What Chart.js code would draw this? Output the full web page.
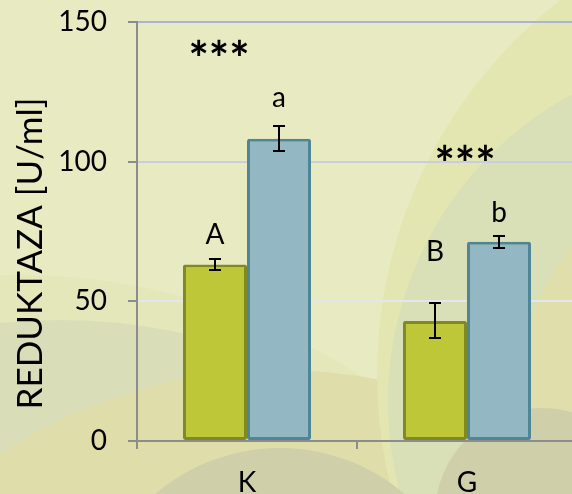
<!DOCTYPE html>
<html>
<head>
<meta charset="utf-8">
<script src="https://cdn.jsdelivr.net/npm/chart.js@4.4.1/dist/chart.umd.min.js"></script>
<style>
  html, body { margin: 0; padding: 0; overflow: hidden; background: #e8ebc0; }
  #wrap { width: 580px; height: 494px; }
</style>
</head>
<body>
<div id="wrap"><canvas id="chart" width="580" height="494"></canvas></div>
<script>
var CATEGORIES = ['K', 'G'];
var SERIES_1 = [63.2, 43.0];
var SERIES_1_ERR = [1.9, 6.3];
var SERIES_2 = [108.2, 71.3];
var SERIES_2_ERR = [4.4, 2.1];
var LETTERS_1 = ['A', 'B'];
var LETTERS_2 = ['a', 'b'];
var STARS = ['***', '***'];
var Y_TITLE = 'REDUKTAZA [U/ml]';

// where the annotations sit, in axis units
var LETTER_Y_1 = [70.5, 64.4];   // text baseline
var LETTER_Y_2 = [119.6, 78.4];
var STARS_Y = [140.7, 103.2];    // middle of the asterisks
var STARS_DX = [-28, -2];

var GRID_COLORS = {150: '#a9b3d6', 100: '#c9cde0', 50: '#e4e6ee'};

// decorative swirl behind the chart
var bgPlugin = {
    id: 'bg',
    beforeDraw: function(chart) {
        var c = chart.ctx;
        c.save();
        c.fillStyle = '#e8ebc1';
        c.fillRect(0, 0, chart.width, chart.height);
        function disc(x, y, r, col) {
            c.beginPath();
            c.arc(x, y, r, 0, Math.PI * 2);
            c.fillStyle = col;
            c.fill();
        }
        disc(20, 900, 625, '#e4e7b9');
        disc(60, 900, 580, '#dadeb8');
        disc(280, 880, 510, '#dfdda9');
        disc(850, 374, 473, '#e3e6b1');
        disc(737, 402, 349, '#d9dfb6');
        disc(760, 400, 243, '#e0deaa');
        disc(542, 515, 107, '#cfd0a9');
        disc(280, 640, 192, '#cfd0a9');
        c.restore();
    }
};

var marksPlugin = {
    id: 'marks',
    afterDatasetsDraw: function(chart) {
        var c = chart.ctx;
        var y = chart.scales.y;
        var errs = [SERIES_1_ERR, SERIES_2_ERR];
        var letters = [LETTERS_1, LETTERS_2];
        var letterY = [LETTER_Y_1, LETTER_Y_2];
        c.save();
        c.strokeStyle = '#000';
        c.lineWidth = 2;
        c.fillStyle = '#000';
        c.textAlign = 'center';
        c.textBaseline = 'alphabetic';
        chart.data.datasets.forEach(function(ds, i) {
            var meta = chart.getDatasetMeta(i);
            meta.data.forEach(function(bar, j) {
                var v = ds.data[j];
                var e = errs[i][j];
                var top = Math.round(y.getPixelForValue(v + e));
                var bot = Math.round(y.getPixelForValue(v - e));
                var x = Math.round(bar.x);
                c.beginPath();
                c.moveTo(x, top); c.lineTo(x, bot);
                c.moveTo(x - 6, top); c.lineTo(x + 6, top);
                c.moveTo(x - 6, bot); c.lineTo(x + 6, bot);
                c.stroke();
                c.font = '28px Lato';
                c.fillText(letters[i][j], bar.x, y.getPixelForValue(letterY[i][j]));
            });
        });
        c.font = 'bold 48px Lato';
        var xs = chart.scales.x;
        STARS.forEach(function(s, j) {
            var m = c.measureText(s);
            var mid = y.getPixelForValue(STARS_Y[j]);
            c.fillText(s, xs.getPixelForValue(j) + STARS_DX[j],
                mid + (m.actualBoundingBoxAscent - m.actualBoundingBoxDescent) / 2);
        });
        // axis title
        c.translate(42, 253.5);
        c.rotate(-Math.PI / 2);
        c.font = '35px Lato';
        c.fillText(Y_TITLE, 0, 0);
        c.restore();
    }
};

function draw() {
    Chart.defaults.font.family = 'Lato';
    Chart.defaults.color = '#000';

    var chart = new Chart(document.getElementById('chart'), {
        type: 'bar',
        data: {
            labels: CATEGORIES,
            datasets: [{
                data: SERIES_1,
                backgroundColor: '#bec737',
                borderColor: '#7f8a26',
                borderWidth: 3,
                borderSkipped: false,
                borderRadius: 2
            }, {
                data: SERIES_2,
                backgroundColor: '#94b8c3',
                borderColor: '#4f8594',
                borderWidth: 3,
                borderSkipped: false,
                borderRadius: 2
            }]
        },
        options: {
            responsive: false,
            devicePixelRatio: 1,
            animation: false,
            layout: {padding: {top: 22, right: 3, left: 0, bottom: 0}},
            plugins: {legend: {display: false}, tooltip: {enabled: false}},
            datasets: {bar: {categoryPercentage: 0.582, barPercentage: 1.0}},
            scales: {
                x: {
                    grid: {offset: true, drawOnChartArea: false, tickLength: 8, tickColor: '#8c8c8c', lineWidth: 2},
                    border: {color: '#8c8c8c', width: 2},
                    ticks: {font: {size: 28}, padding: 17},
                    afterFit: function(s) { s.height = 53; s.paddingLeft = 0; s.paddingRight = 0; }
                },
                y: {
                    min: 0,
                    max: 150,
                    ticks: {stepSize: 50, font: {size: 28}, padding: 21},
                    grid: {
                        tickLength: 9,
                        tickColor: '#8c8c8c',
                        lineWidth: 2,
                        color: function(ctx) { return GRID_COLORS[ctx.tick.value] || 'rgba(0,0,0,0)'; }
                    },
                    border: {color: '#8c8c8c', width: 2},
                    afterFit: function(s) { s.width = 137; s.paddingTop = 0; s.paddingBottom = 0; }
                }
            }
        },
        plugins: [bgPlugin, marksPlugin]
    });
}

if (document.fonts && document.fonts.load) {
    Promise.all([document.fonts.load('28px Lato'), document.fonts.load('bold 48px Lato')]).then(draw, draw);
} else {
    draw();
}
</script>
</body>
</html>
